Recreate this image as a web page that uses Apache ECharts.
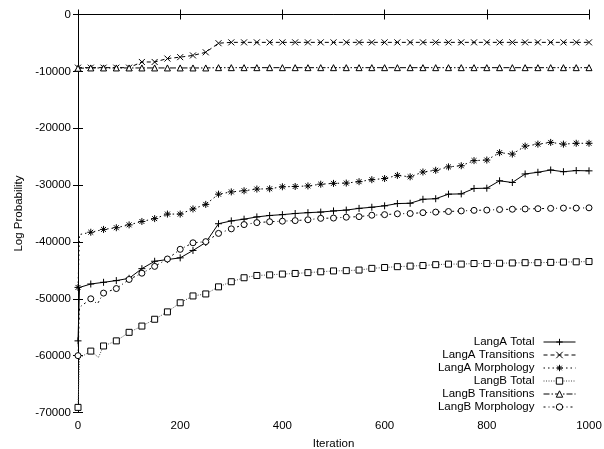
<!DOCTYPE html>
<html><head><meta charset="utf-8">
<script src="https://cdn.jsdelivr.net/npm/echarts@6/dist/echarts.min.js"></script>
<style>html,body{margin:0;padding:0;background:#fff}#c{width:604px;height:449px}</style>
</head><body><div id="c"></div>
<script>
// Iterations at which markers are drawn (every 25)
const iters = [0,25,50,75,100,125,150,175,200,225,250,275,300,325,350,375,400,425,450,475,500,525,550,575,600,625,650,675,700,725,750,775,800,825,850,875,900,925,950,975,1000];

const langATotal = [-57400,-47400,-47100,-46800,-46400,-44700,-43400,-43100,-42800,-41500,-40100,-36800,-36300,-36000,-35600,-35350,-35200,-35000,-34850,-34750,-34550,-34400,-34100,-33900,-33650,-33250,-33200,-32500,-32400,-31600,-31550,-30600,-30550,-29250,-29550,-28050,-27750,-27350,-27650,-27450,-27500];
const langATrans = [-9350,-9350,-9350,-9350,-9350,-8350,-8350,-7750,-7500,-7200,-6650,-5050,-4900,-4900,-4900,-4900,-4900,-4900,-4900,-4900,-4900,-4900,-4900,-4900,-4900,-4900,-4900,-4900,-4900,-4900,-4900,-4900,-4900,-4900,-4900,-4900,-4900,-4900,-4900,-4900,-4900];
const langAMorph = [-48000,-38300,-37800,-37500,-37000,-36400,-35900,-35100,-35100,-34200,-33400,-31600,-31200,-31000,-30700,-30650,-30300,-30250,-30150,-29850,-29700,-29650,-29400,-29050,-28850,-28300,-28550,-27700,-27400,-26800,-26600,-25700,-25600,-24300,-24550,-23150,-22800,-22500,-22800,-22650,-22650];
const langBTotal = [-69100,-59200,-58300,-57400,-55900,-54800,-53600,-52300,-50700,-49500,-49150,-47900,-47000,-46300,-45900,-45800,-45650,-45550,-45400,-45250,-45100,-45050,-44950,-44650,-44500,-44350,-44250,-44150,-44000,-43900,-43900,-43800,-43800,-43750,-43700,-43650,-43650,-43600,-43550,-43500,-43450];
const langBTrans = [-9450,-9400,-9400,-9400,-9400,-9400,-9400,-9400,-9400,-9400,-9400,-9350,-9350,-9350,-9350,-9350,-9350,-9350,-9350,-9350,-9350,-9350,-9350,-9350,-9350,-9350,-9350,-9350,-9350,-9350,-9350,-9350,-9350,-9350,-9350,-9350,-9350,-9350,-9350,-9350,-9350];
const langBMorph = [-60000,-50000,-49000,-48200,-46600,-45500,-44300,-43000,-41300,-40150,-39950,-38500,-37700,-36950,-36600,-36450,-36350,-36250,-36100,-35850,-35800,-35650,-35550,-35300,-35200,-35050,-35000,-34850,-34750,-34650,-34550,-34450,-34400,-34300,-34250,-34200,-34150,-34100,-34050,-34050,-34000];

// Extra unmarked points (early jump just after iteration 0)
const langATotalExtraX = [3];   const langATotalExtraY = [-48000];
const langAMorphExtraX = [3];   const langAMorphExtraY = [-38700];
const langBTotalExtraX = [3,40]; const langBTotalExtraY = [-60400,-60300];
const langBMorphExtraX = [3,38]; const langBMorphExtraY = [-51500,-50900];

const names = ['LangA Total','LangA Transitions','LangA Morphology','LangB Total','LangB Transitions','LangB Morphology'];
const yTicks = {min:-70000, max:0, interval:10000};
const xTicks = {min:0, max:1000, interval:200};

const FONT = 'Liberation Sans, Arial, Helvetica, sans-serif';
const SYM_PLUS = 'path://M0,5L10,5M5,0L5,10';
const SYM_CROSS = 'path://M0,0L10,10M10,0L0,10';
const SYM_STAR = 'path://M0,5L10,5M5,0L5,10M1.5,1.5L8.5,8.5M8.5,1.5L1.5,8.5';

function mk(name, vals, ex, ey, symbol, size, fill, lineType, lineColor) {
  const pts = iters.map((x, i) => ({value: [x, vals[i]]}));
  (ex || []).forEach((x, i) => pts.push({value: [x, ey[i]], symbol: 'none'}));
  pts.sort((a, b) => a.value[0] - b.value[0]);
  return {
    name, type: 'line', data: pts, symbol, symbolSize: size,
    animation: false, xAxisIndex: 0, yAxisIndex: 0,
    lineStyle: {color: lineColor, width: 1, type: lineType},
    itemStyle: {color: fill, borderColor: '#000', borderWidth: 1},
    emphasis: {disabled: true}
  };
}

const axisCommon = {
  axisLine: {show: true, lineStyle: {color: '#000', width: 1}},
  axisTick: {show: true, inside: true, length: 5, lineStyle: {color: '#000'}},
  splitLine: {show: false},
  axisLabel: {color: '#000', fontSize: 11.5, fontFamily: FONT, margin: 7, formatter: v => String(v)}
};

const chart = echarts.init(document.getElementById('c'), null, {renderer: 'canvas'});
chart.setOption({
  backgroundColor: '#fff',
  animation: false,
  grid: {left: 78, right: 15, top: 14.5, bottom: 36.5, containLabel: false, outerBoundsMode: 'none'},
  xAxis: [
    Object.assign({}, axisCommon, {type: 'value', position: 'bottom', min: xTicks.min, max: xTicks.max, interval: xTicks.interval,
      name: 'Iteration', nameLocation: 'middle', nameGap: 25, nameMoveOverlap: false,
      nameTextStyle: {color: '#000', fontSize: 11.5, fontFamily: FONT}}),
    Object.assign({}, axisCommon, {type: 'value', position: 'top', min: xTicks.min, max: xTicks.max, interval: xTicks.interval,
      axisLabel: {show: false}})
  ],
  yAxis: [
    Object.assign({}, axisCommon, {type: 'value', position: 'left', min: yTicks.min, max: yTicks.max, interval: yTicks.interval,
      name: 'Log Probability', nameLocation: 'middle', nameGap: 53, nameMoveOverlap: false,
      nameTextStyle: {color: '#000', fontSize: 11.5, fontFamily: FONT}}),
    Object.assign({}, axisCommon, {type: 'value', position: 'right', min: yTicks.min, max: yTicks.max, interval: yTicks.interval,
      axisLabel: {show: false}})
  ],
  legend: {
    orient: 'vertical', right: 23, top: 331, align: 'right',
    itemWidth: 32, itemHeight: 8, itemGap: 1, selectedMode: false,
    lineStyle: {width: 1},
    itemStyle: {borderWidth: 1},
    textStyle: {fontSize: 11.5, fontFamily: FONT, color: '#000', lineHeight: 11.7, padding: [0, 4, 0, 0]},
    data: names
  },
  series: [
    mk(names[0], langATotal, langATotalExtraX, langATotalExtraY, SYM_PLUS, 7, '#000', 'solid', '#000'),
    mk(names[1], langATrans, null, null, SYM_CROSS, 6, '#000', [4, 3], '#000'),
    mk(names[2], langAMorph, langAMorphExtraX, langAMorphExtraY, SYM_STAR, 7, '#000', [1.5, 3], '#000'),
    mk(names[3], langBTotal, langBTotalExtraX, langBTotalExtraY, 'rect', 6, '#fff', [1, 1.5], '#444'),
    mk(names[4], langBTrans, null, null, 'triangle', 6, '#fff', [6, 2, 1.5, 2], '#000'),
    mk(names[5], langBMorph, langBMorphExtraX, langBMorphExtraY, 'circle', 6, '#fff', [2, 3, 1, 3], '#000')
  ]
});
</script></body></html>
